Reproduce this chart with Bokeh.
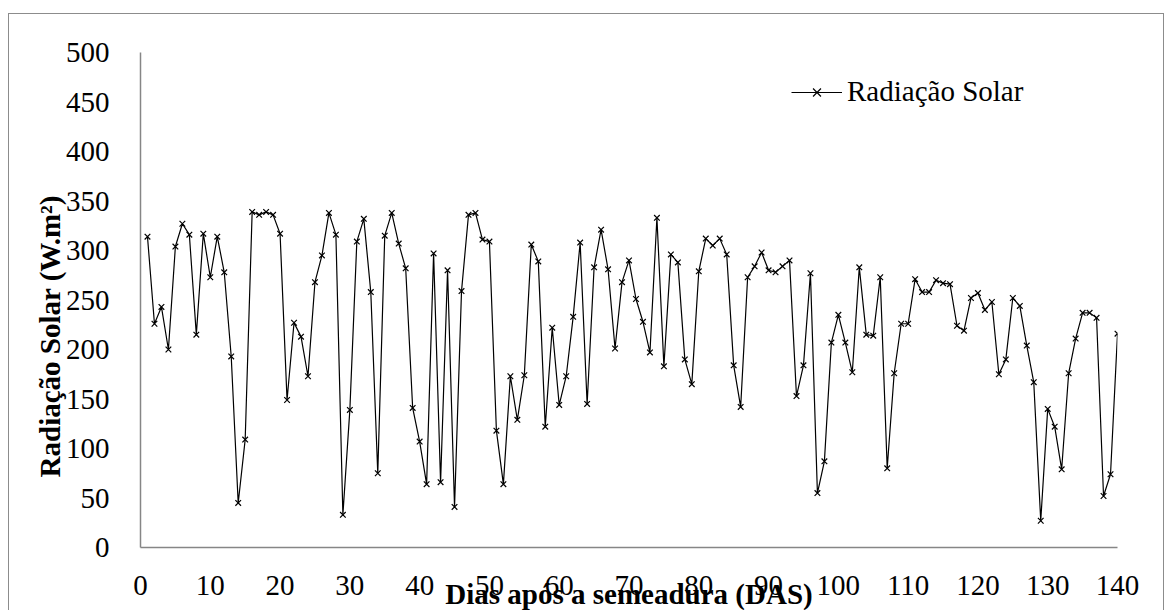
from bokeh.plotting import figure
from bokeh.models import Range1d, Legend, LegendItem, FixedTicker, Spacer
from bokeh.layouts import column, row
from bokeh.embed import file_html
from bokeh.resources import INLINE

days = list(range(1, 141))
radiacao = [314, 226, 243, 200, 304, 327, 316, 215, 317, 273,
            314, 278, 193, 45, 109, 339, 336, 339, 336, 317,
            149, 227, 213, 173, 268, 295, 338, 316, 33, 139,
            309, 332, 258, 75, 315, 338, 307, 282, 141, 107,
            64, 297, 66, 280, 41, 259, 336, 338, 311, 309,
            118, 64, 173, 129, 174, 306, 289, 122, 222, 144,
            173, 233, 308, 145, 283, 321, 281, 201, 268, 290,
            251, 228, 197, 333, 183, 296, 288, 190, 165, 279,
            312, 305, 312, 296, 184, 142, 273, 284, 298, 280,
            278, 284, 290, 153, 184, 277, 55, 87, 207, 235,
            207, 177, 283, 215, 214, 273, 80, 176, 226, 226,
            271, 258, 258, 270, 267, 266, 224, 219, 252, 257,
            240, 248, 175, 190, 252, 244, 204, 167, 27, 140,
            122, 79, 176, 211, 237, 237, 232, 52, 74, 216]
x_ticks = [0, 10, 20, 30, 40, 50, 60, 70, 80, 90, 100, 110, 120, 130, 140]
y_ticks = [0, 50, 100, 150, 200, 250, 300, 350, 400, 450, 500]
series_name = "Radiação Solar"
x_title = "Dias após a semeadura (DAS)"
y_title = "Radiação Solar (W.m²)"

FONT = "Liberation Serif"
FS = "29px"

p = figure(width=1156, height=600, output_backend="svg", toolbar_location=None,
           x_range=Range1d(0, 140), y_range=Range1d(0, 500),
           min_border_left=131, min_border_right=48, min_border_top=38,
           min_border_bottom=67)
p.outline_line_color = None
p.xgrid.visible = False
p.ygrid.visible = False
# outer chart-area border (bottom edge lies outside the window in the reference)
p.styles = {"border-left": "1px solid #8c8c8c", "border-right": "1px solid #8c8c8c",
            "border-top": "1px solid #8c8c8c", "margin-bottom": "-8px"}

line = p.line(days, radiacao, line_color="black", line_width=1.2)
marks = p.scatter(days, radiacao, marker="x", size=8, line_color="black", line_width=1.2)

p.axis.axis_line_color = "#868686"
p.axis.axis_line_width = 1.5
p.axis.major_tick_line_color = None
p.axis.minor_tick_line_color = None
p.axis.major_label_text_font = FONT
p.axis.major_label_text_font_size = FS
p.axis.major_label_text_color = "black"
p.axis.axis_label_text_font = FONT
p.axis.axis_label_text_font_size = FS
p.axis.axis_label_text_font_style = "bold"
p.axis.axis_label_text_color = "black"

p.xaxis.ticker = FixedTicker(ticks=x_ticks)
p.yaxis.ticker = FixedTicker(ticks=y_ticks)
p.xaxis.major_label_standoff = 22
p.yaxis.major_label_standoff = 25

# x title sits low, partly over the tick labels, as in the reference
p.xaxis.axis_label = x_title
p.xaxis.axis_label_standoff = -20
# y title is placed lower than the axis centre in the reference (em spaces pad its top end)
p.yaxis.axis_label = y_title + "\u2003\u2003\u2002"
p.yaxis.axis_label_standoff = -3

legend = Legend(items=[LegendItem(label=series_name, renderers=[line, marks])],
                location=(651, 439), orientation="vertical")
legend.glyph_width = 51
legend.glyph_height = 28
legend.label_standoff = 5
legend.label_text_font = FONT
legend.label_text_font_size = FS
legend.label_text_color = "black"
legend.padding = 0
legend.margin = 0
legend.spacing = 0
legend.border_line_color = None
legend.background_fill_alpha = 0
p.add_layout(legend)

layout = column(Spacer(height=13), row(Spacer(width=8), p))
open("out.html", "w").write(file_html(layout, INLINE))
